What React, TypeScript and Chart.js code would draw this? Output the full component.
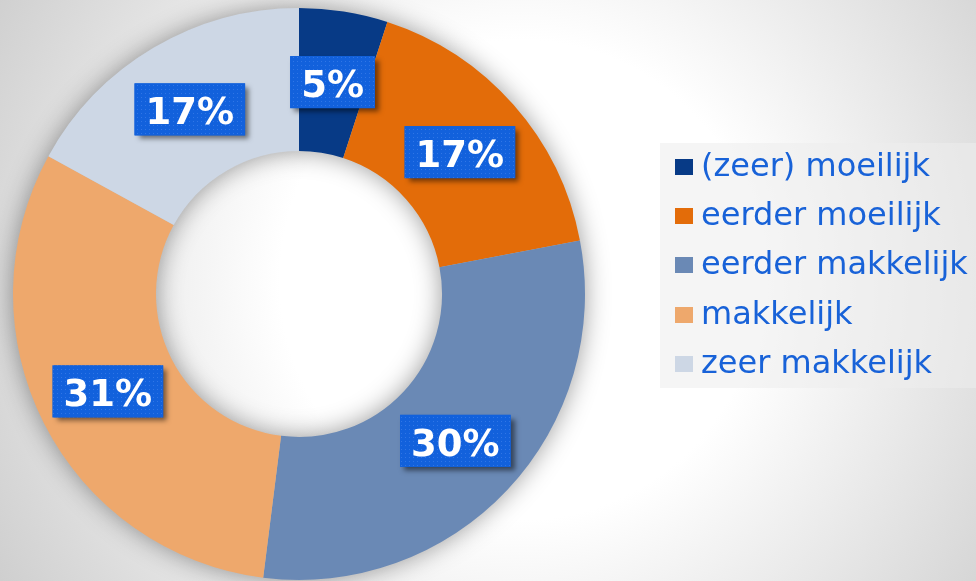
import React, { useEffect, useRef } from "react";
import { Chart, registerables } from "chart.js";

Chart.register(...registerables);

const categories = [
  "(zeer) moeilijk",
  "eerder moeilijk",
  "eerder makkelijk",
  "makkelijk",
  "zeer makkelijk",
];
const values = [5, 17, 30, 31, 17];
const sliceColors = ["#073a86", "#e36c09", "#6a89b5", "#eea86c", "#cdd7e5"];

const LABEL_BLUE = "#1261dc";
const LEGEND_TEXT = "#1862d8";

function makePattern(ctx: CanvasRenderingContext2D) {
  const c = document.createElement("canvas");
  c.width = 4;
  c.height = 4;
  const p = c.getContext("2d")!;
  p.fillStyle = LABEL_BLUE;
  p.fillRect(0, 0, 4, 4);
  p.fillStyle = "rgba(120,170,255,0.3)";
  p.fillRect(1, 1, 1, 1);
  return ctx.createPattern(c, "repeat") || LABEL_BLUE;
}

const ringShadow = {
  id: "ringShadow",
  beforeDatasetsDraw(chart: any) {
    const meta = chart.getDatasetMeta(0);
    const a = meta.data[0];
    if (!a) return;
    const ctx = chart.ctx as CanvasRenderingContext2D;
    const { x, y, outerRadius, innerRadius } = a.getProps(
      ["x", "y", "outerRadius", "innerRadius"],
      true
    );
    ctx.save();
    ctx.beginPath();
    ctx.arc(x, y, outerRadius - 1, 0, Math.PI * 2);
    ctx.arc(x, y, innerRadius + 1, 0, Math.PI * 2, true);
    ctx.closePath();
    ctx.shadowColor = "rgba(0,0,0,0.42)";
    ctx.shadowBlur = 26;
    ctx.fillStyle = "#bbbbbb";
    ctx.fill("evenodd");
    ctx.restore();
  },
};

const pctLabels = {
  id: "pctLabels",
  afterDatasetsDraw(chart: any) {
    const ctx = chart.ctx as CanvasRenderingContext2D;
    const meta = chart.getDatasetMeta(0);
    const data = chart.data.datasets[0].data as number[];
    const pattern = makePattern(ctx);
    ctx.save();
    ctx.font = "bold 37px 'DejaVu Sans'";
    meta.data.forEach((arc: any, i: number) => {
      const { x, y } = arc.getCenterPoint();
      const text = data[i] + "%";
      const tw = ctx.measureText(text).width;
      const bw = tw + 22;
      const bh = 52;
      const bx = x - bw / 2;
      const by = y - bh / 2;
      ctx.save();
      ctx.shadowColor = "rgba(0,0,0,0.5)";
      ctx.shadowBlur = 5;
      ctx.shadowOffsetX = 4;
      ctx.shadowOffsetY = 4;
      ctx.fillStyle = LABEL_BLUE;
      ctx.fillRect(bx, by, bw, bh);
      ctx.restore();
      ctx.fillStyle = pattern as any;
      ctx.fillRect(bx, by, bw, bh);
      ctx.fillStyle = "#ffffff";
      ctx.textAlign = "center";
      ctx.textBaseline = "alphabetic";
      ctx.fillText(text, x, y + 15);
    });
    ctx.restore();
  },
};

export default function App() {
  const ref = useRef<HTMLCanvasElement | null>(null);

  useEffect(() => {
    if (!ref.current) return;
    const chart = new Chart(ref.current, {
      type: "doughnut",
      data: {
        labels: categories,
        datasets: [
          {
            data: values,
            backgroundColor: sliceColors,
            borderWidth: 0,
            hoverOffset: 0,
          },
        ],
      },
      options: {
        responsive: false,
        animation: false,
        cutout: "50%",
        layout: { padding: { left: 13, top: 8, right: 391, bottom: 1 } },
        plugins: {
          legend: { display: false },
          tooltip: { enabled: false },
        },
        events: [],
      },
      plugins: [ringShadow, pctLabels],
    });
    return () => chart.destroy();
  }, []);

  return (
    <div
      style={{
        position: "fixed",
        left: 0,
        top: 0,
        width: 976,
        height: 581,
        overflow: "hidden",
        background:
          "radial-gradient(circle at 520px 280px, #ffffff 0px, #ffffff 240px, #cfcfcf 600px)",
        fontFamily: "'DejaVu Sans', Verdana, sans-serif",
      }}
    >
      <canvas
        ref={ref}
        width={976}
        height={581}
        style={{ position: "absolute", left: 0, top: 0, width: 976, height: 581 }}
      />
      <div
        style={{
          position: "absolute",
          left: 660,
          top: 143,
          width: 316,
          height: 245,
          background: "rgba(238,238,238,0.57)",
        }}
      />
      {categories.map((c, i) => (
        <React.Fragment key={c}>
          <div
            style={{
              position: "absolute",
              left: 675,
              top: 159 + 49.2 * i,
              width: 18,
              height: 16,
              background: sliceColors[i],
            }}
          />
          <div
            style={{
              position: "absolute",
              left: 701,
              top: 147 + 49.2 * i,
              height: 37,
              lineHeight: "37px",
              fontSize: 32,
              color: LEGEND_TEXT,
              whiteSpace: "nowrap",
            }}
          >
            {c}
          </div>
        </React.Fragment>
      ))}
    </div>
  );
}
